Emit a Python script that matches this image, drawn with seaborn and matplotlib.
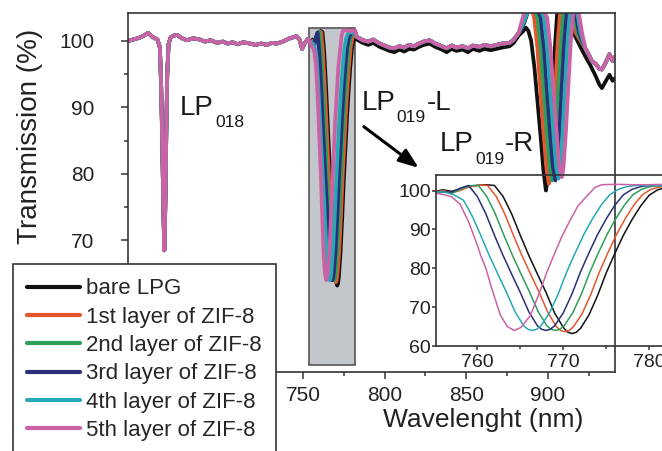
import pandas as pd
import matplotlib
matplotlib.use("Agg")
import matplotlib.pyplot as plt
from matplotlib.lines import Line2D
from matplotlib.patches import Rectangle
from matplotlib.ticker import MultipleLocator
import seaborn as sns

layers = ['bare LPG', '1st layer of ZIF-8', '2nd layer of ZIF-8',
          '3rd layer of ZIF-8', '4th layer of ZIF-8', '5th layer of ZIF-8']
colors = ['#111111', '#e4572e', '#2f9e5a', '#2a2f7a', '#26a9b5', '#cc62a6']

# shared part of the spectrum: start, LP018 dip, flat part up to LP019-L
wl_start = [643, 646, 649, 652, 655.3, 658, 661, 662.5, 663.3, 664, 664.6, 665.2, 665.8, 666.4, 667,
            667.8, 669, 671, 673, 676, 679, 683, 687, 690, 693.5, 697.5, 701, 704, 707, 710,
            713.5, 717.6, 721, 724.5, 728, 731, 734, 737.8, 741, 743.5, 746, 748, 749.5, 751, 753, 754]
T_start = [100.0, 100.2, 100.4, 100.7, 101.2, 100.6, 100.2, 99.0, 93.0, 84.0, 75.0, 68.5, 75.0, 86.0, 95.0,
           99.5, 100.5, 100.8, 100.9, 100.4, 100.1, 100.4, 100.2, 99.9, 100.1, 99.7, 99.9, 99.6, 99.8, 99.5,
           99.8, 99.6, 99.4, 99.6, 99.4, 99.7, 99.6, 99.9, 100.3, 100.5, 100.7, 100.2, 98.8, 99.6, 100.3, 100.0]

# LP019-L dip (also shown in the inset)
wl_L_0 = [755.2, 756, 757, 758, 759, 760, 761, 762, 763, 764, 765, 766, 767, 768, 769, 770, 770.5,
          771, 771.5, 772, 773, 774, 775, 776, 777, 778, 779, 780, 781, 782]
T_L_0 = [99.8, 100.2, 99.8, 100.3, 101.0, 101.3, 101.5, 101.3, 98.5, 94.0, 88.5, 83.3, 78.5, 73.8, 68.5,
         64.8, 63.6, 63.2, 63.5, 64.5, 68.0, 73.0, 78.8, 83.8, 88.5, 92.5, 96.0, 98.8, 100.2, 100.8]
wl_L_1 = [755.2, 756, 757, 758, 759, 760.2, 761.2, 762.2, 763.2, 764.2, 765.2, 766.2, 767.2, 768.2, 769.2,
          769.7, 770.2, 770.7, 771.2, 772.2, 773.2, 774.2, 775.2, 776.2, 777.2, 778.2, 779.2, 780.2, 781.2, 782]
T_L_1 = [99.6, 100.0, 99.4, 100.0, 100.9, 101.4, 101.3, 98.5, 94.0, 88.5, 83.3, 78.5, 73.8, 68.7, 65.0,
         64.0, 63.7, 64.0, 65.0, 68.3, 73.2, 79.0, 84.0, 88.7, 92.7, 96.2, 98.9, 100.3, 100.9, 101.2]
wl_L_2 = [755.2, 756, 757, 758, 759.1, 760.1, 761.1, 762.1, 763.1, 764.1, 765.1, 766.1, 767.1, 768.1, 768.6,
          769.1, 769.6, 770.1, 771.1, 772.1, 773.1, 774.1, 775.1, 776.1, 777.1, 778.1, 779.1, 780.1, 781, 782]
T_L_2 = [99.4, 99.8, 99.2, 100.3, 101.2, 101.4, 98.5, 94.0, 88.5, 83.3, 78.5, 73.8, 68.8, 65.2, 64.3,
         64.0, 64.3, 65.2, 68.5, 73.3, 79.0, 84.0, 88.7, 92.7, 96.2, 98.9, 100.3, 101.0, 101.3, 101.3]
wl_L_3 = [755.2, 756, 757, 758, 759, 760, 761, 762, 763, 764, 765, 766, 767, 767.5, 768,
          768.5, 769, 770, 771, 772, 773, 774, 775, 776, 777, 778, 779, 780, 781, 782]
T_L_3 = [99.3, 99.6, 99.6, 100.6, 101.3, 98.5, 94.0, 88.5, 83.3, 78.5, 73.8, 68.8, 65.2, 64.3, 64.0,
         64.3, 65.2, 68.5, 73.3, 79.0, 84.0, 88.7, 92.7, 96.2, 98.9, 100.3, 101.0, 101.3, 101.3, 101.2]
wl_L_4 = [755.2, 756.2, 757.2, 758.4, 759.4, 760.4, 761.4, 762.4, 763.4, 764.4, 765.4, 765.9, 766.4, 766.9,
          767.4, 768.4, 769.4, 770.4, 771.4, 772.4, 773.4, 774.4, 775.4, 776.4, 777.4, 778.4, 780, 782]
T_L_4 = [99.6, 99.6, 99.0, 97.5, 93.5, 88.5, 83.3, 78.5, 73.8, 68.8, 65.2, 64.3, 64.0, 64.3,
         65.2, 68.5, 73.3, 79.0, 84.0, 88.7, 92.7, 96.2, 98.9, 100.3, 101.0, 101.3, 101.3, 101.2]
wl_L_5 = [755.2, 756, 757, 758, 759, 760, 760.4, 761, 761.7, 762.7, 763.5, 764.3, 765.1, 766.2,
          767.4, 768.1, 768.9, 769.8, 770.7, 771.7, 772.8, 773.7, 774.5, 776, 778, 780, 782]
T_L_5 = [99.3, 99.0, 98.4, 96.5, 91.9, 86.0, 83.3, 80.0, 74.7, 67.9, 65.0, 64.0, 64.8, 67.9,
         74.7, 79.0, 83.3, 88.0, 91.9, 96.0, 98.7, 100.8, 101.5, 101.6, 101.5, 101.5, 101.6]

# flat part between LP019-L and LP019-R
wl_mid = [783, 786.7, 790, 793, 797, 800, 803, 806, 809, 812, 815, 818, 821, 824, 827.6, 831,
          835, 838, 841, 844, 847.8, 851, 854, 858, 861, 865, 868.6, 872, 876.5, 879, 882]
T_mid_bare = [100.2, 99.7, 99.4, 99.7, 99.1, 98.8, 98.5, 98.3, 98.7, 98.4, 98.8, 98.7, 99.1, 99.4, 99.6, 99.1,
              98.7, 98.3, 98.8, 98.5, 98.7, 98.3, 98.8, 98.5, 98.8, 98.6, 98.8, 99.0, 99.2, 99.7, 100.8]
T_mid_coated = [100.6, 100.1, 99.9, 100.2, 99.6, 99.3, 99.0, 98.9, 99.2, 99.0, 99.4, 99.2, 99.6, 99.9, 100.1, 99.6,
                99.2, 98.9, 99.3, 99.0, 99.2, 98.9, 99.3, 99.1, 99.4, 99.2, 99.4, 99.6, 99.7, 100.2, 101.2]

# LP019-R dip
wl_R_0 = [885, 886.5, 888, 889.7, 891.7, 893.7, 895.7, 897.2, 898.7, 899.7, 901.2, 902.7, 904.2, 905.7, 907.7, 911, 914, 916]
T_R_0 = [101.5, 102.0, 101.5, 100.0, 96.0, 90.5, 85.0, 80.5, 77.5, 79.0, 85.0, 92.0, 99.0, 104.5, 107.5, 108.0, 104.0, 101.0]
wl_R_1 = [885, 887.5, 889.5, 891.5, 893.5, 895.5, 897.5, 899, 900.5, 901.5, 903, 904.5, 906, 907.5, 909.5, 912, 915, 917]
T_R_1 = [102.6, 104.8, 105.3, 103.5, 99.0, 92.0, 85.5, 81.0, 78.5, 80.0, 86.0, 93.0, 100.0, 104.5, 107.5, 108.0, 104.0, 101.2]
wl_R_2 = [885, 887.5, 890, 893.5, 895.5, 897.5, 899.5, 901, 902.5, 903.5, 905, 906.5, 908, 909.5, 911.5, 914, 916, 918]
T_R_2 = [102.4, 104.3, 105.5, 103.5, 99.0, 92.0, 85.5, 81.0, 79.0, 80.5, 86.5, 93.5, 100.0, 104.5, 107.5, 107.0, 104.0, 101.2]
wl_R_3 = [885, 888, 892, 895.5, 897.5, 899.5, 901.5, 903, 904.5, 905.5, 907, 908.5, 910, 911.5, 913.5, 915, 917, 919]
T_R_3 = [102.5, 104.5, 105.8, 103.5, 99.0, 92.0, 85.5, 81.0, 79.0, 80.5, 86.5, 93.5, 100.0, 104.5, 107.0, 107.0, 104.0, 101.2]
wl_R_4 = [885, 888, 893, 897.5, 899.5, 901.5, 903.5, 905, 906.5, 907.5, 909, 910.5, 912, 913.5, 915.5, 916.5, 918, 920]
T_R_4 = [102.8, 104.6, 106.0, 103.5, 99.0, 92.0, 85.5, 81.0, 79.3, 80.8, 86.5, 93.5, 100.0, 104.5, 106.5, 106.5, 104.0, 101.2]
wl_R_5 = [885, 888, 894, 899.5, 901.5, 903.5, 905.5, 907, 908.5, 909.5, 911, 912.5, 914, 915.5, 917, 918, 919, 921]
T_R_5 = [103.9, 105.5, 106.0, 103.5, 99.0, 92.0, 85.5, 81.0, 79.5, 81.0, 86.5, 93.5, 100.0, 104.5, 106.0, 106.0, 104.0, 101.0]

# tail after LP019-R
wl_tail_bare = [919, 923, 926, 929, 931.5, 933, 935, 937.6, 939.5, 941]
T_tail_bare = [99.5, 97.6, 96.3, 94.8, 93.4, 92.9, 93.8, 94.9, 94.0, 94.4]
wl_tail_coated = [923, 925, 927, 929, 931.5, 933, 935, 937.6, 939.5, 941]
T_tail_coated = [98.8, 97.9, 96.9, 96.6, 95.8, 95.7, 96.6, 98.0, 97.0, 97.6]


def build_tables():
    dips_L = [(wl_L_0, T_L_0), (wl_L_1, T_L_1), (wl_L_2, T_L_2),
              (wl_L_3, T_L_3), (wl_L_4, T_L_4), (wl_L_5, T_L_5)]
    dips_R = [(wl_R_0, T_R_0), (wl_R_1, T_R_1), (wl_R_2, T_R_2),
              (wl_R_3, T_R_3), (wl_R_4, T_R_4), (wl_R_5, T_R_5)]
    full, inset = [], []
    for i, name in enumerate(layers):
        mid = T_mid_bare if i == 0 else T_mid_coated
        tail_wl = wl_tail_bare if i == 0 else wl_tail_coated
        tail_T = T_tail_bare if i == 0 else T_tail_coated
        wl = wl_start + dips_L[i][0] + wl_mid + dips_R[i][0] + tail_wl
        T = T_start + dips_L[i][1] + mid + dips_R[i][1] + tail_T
        full.append(pd.DataFrame({'wl': wl, 'T': T, 'layer': name}))
        inset.append(pd.DataFrame({'wl': dips_L[i][0], 'T': dips_L[i][1], 'layer': name}))
    return pd.concat(full), pd.concat(inset)


def lp_label(ax, x, y, mode, tail=''):
    t = ax.text(x, y, 'LP', fontsize=20, ha='left', va='baseline', color='#1a1a1a')
    s = ax.annotate(mode, xy=(1, 0), xycoords=t, xytext=(1, -4.5), textcoords='offset points',
                    fontsize=12.5, ha='left', va='baseline', color='#1a1a1a')
    if tail:
        ax.annotate(tail, xy=(1, 0), xycoords=(s, t), xytext=(0.5, 0), textcoords='offset points',
                    fontsize=20, ha='left', va='bottom', color='#1a1a1a')


def main():
    sns.set_style("ticks")
    plt.rcParams['font.family'] = ['Liberation Sans', 'DejaVu Sans']
    plt.rcParams['axes.edgecolor'] = '#333333'
    plt.rcParams['axes.linewidth'] = 1.2

    full_df, inset_df = build_tables()

    fig = plt.figure(figsize=(6.62, 4.51), dpi=100)
    ax = fig.add_axes([0.1934, 0.1752, 0.7356, 0.796])

    ax.add_patch(Rectangle((753.7, 51.3), 28.1, 50.7, facecolor='#c3c6cb',
                           edgecolor='#555555', lw=1.2, zorder=1))
    sns.lineplot(data=full_df, x='wl', y='T', hue='layer', hue_order=layers, palette=colors,
                 estimator=None, sort=False, lw=2.7, legend=False, ax=ax)

    ax.set_xlim(643, 941)
    ax.set_ylim(50.2, 104.2)
    ax.xaxis.set_major_locator(MultipleLocator(50))
    ax.xaxis.set_minor_locator(MultipleLocator(25))
    ax.yaxis.set_major_locator(MultipleLocator(10))
    ax.yaxis.set_minor_locator(MultipleLocator(5))
    ax.tick_params(which='both', direction='out', width=1.1, colors='#333333', labelcolor='#222222')
    ax.tick_params(which='major', length=5, labelsize=15)
    ax.tick_params(which='minor', length=3)
    ax.tick_params(axis='y', pad=19)
    ax.tick_params(axis='x', pad=5)
    ax.set_xlabel('Wavelenght (nm)', fontsize=19, color='#222222')
    ax.set_ylabel('Transmission (%)', fontsize=20, color='#222222')
    ax.xaxis.set_label_coords(0.729, -0.1)
    ax.yaxis.set_label_coords(-0.175, 0.655)

    lp_label(ax, 674.8, 88.9, '018')
    lp_label(ax, 785.9, 89.6, '019', '-L')
    lp_label(ax, 833.7, 83.4, '019', '-R')
    ax.annotate('', xy=(820.9, 80.9), xytext=(787.3, 87.1),
                arrowprops=dict(arrowstyle='-|>,head_length=0.8,head_width=0.3', color='black',
                                lw=2.2, mutation_scale=15, shrinkA=0, shrinkB=0))

    # inset: zoom on LP019-L
    ax_in = fig.add_axes([0.6586, 0.2328, 0.348, 0.3792], facecolor='none')
    sns.lineplot(data=inset_df, x='wl', y='T', hue='layer', hue_order=layers, palette=colors,
                 estimator=None, sort=False, lw=1.1, legend=False, ax=ax_in)
    ax_in.set_xlim(755.2, 782)
    ax_in.set_ylim(60, 104)
    ax_in.xaxis.set_major_locator(MultipleLocator(10))
    ax_in.xaxis.set_minor_locator(MultipleLocator(5))
    ax_in.yaxis.set_major_locator(MultipleLocator(10))
    ax_in.tick_params(which='both', direction='out', width=1.1, colors='#333333', labelcolor='#222222')
    ax_in.tick_params(which='major', length=3, labelsize=14)
    ax_in.tick_params(which='minor', length=2)
    ax_in.tick_params(axis='y', pad=0.5)
    ax_in.tick_params(axis='x', pad=3)
    ax_in.set_xlabel('')
    ax_in.set_ylabel('')

    handles = [Line2D([0], [0], color=c, lw=3) for c in colors]
    leg = fig.legend(handles, layers, loc='upper left', bbox_to_anchor=(13 / 662, 1 - 264 / 451),
                     bbox_transform=fig.transFigure, fontsize=16, frameon=True, fancybox=False,
                     edgecolor='#333333', framealpha=1, handlelength=2.35, handletextpad=0.3,
                     labelspacing=0.33, borderpad=0.65, borderaxespad=0)
    leg.get_frame().set_linewidth(1.2)

    fig.savefig('out.png', dpi=100, facecolor='white')


if __name__ == '__main__':
    main()
